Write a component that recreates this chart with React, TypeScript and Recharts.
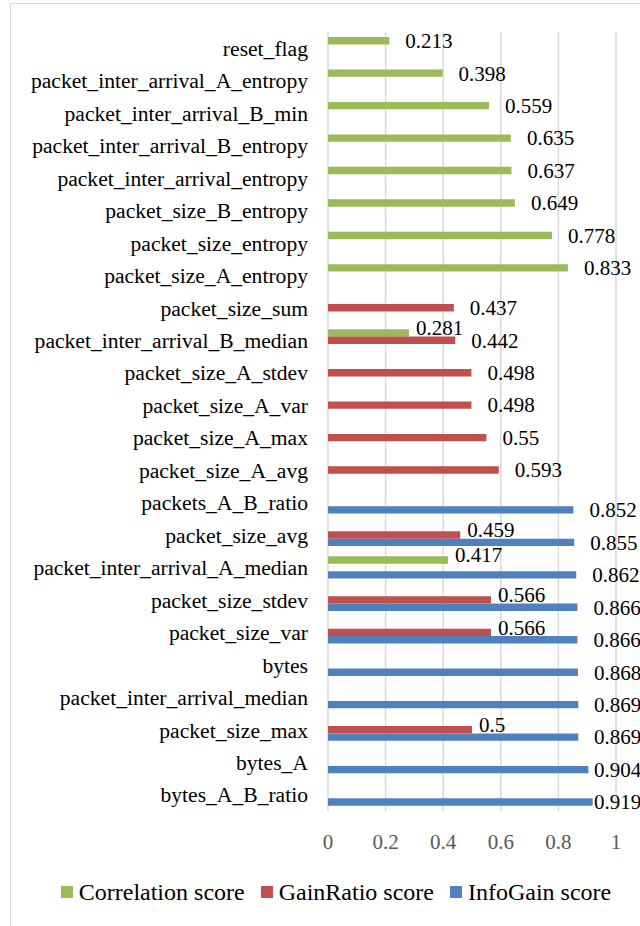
import React from 'react';
import { BarChart, Bar, XAxis, YAxis, CartesianGrid, Legend } from 'recharts';

// feature names, top to bottom
const features = [
  'reset_flag',
  'packet_inter_arrival_A_entropy',
  'packet_inter_arrival_B_min',
  'packet_inter_arrival_B_entropy',
  'packet_inter_arrival_entropy',
  'packet_size_B_entropy',
  'packet_size_entropy',
  'packet_size_A_entropy',
  'packet_size_sum',
  'packet_inter_arrival_B_median',
  'packet_size_A_stdev',
  'packet_size_A_var',
  'packet_size_A_max',
  'packet_size_A_avg',
  'packets_A_B_ratio',
  'packet_size_avg',
  'packet_inter_arrival_A_median',
  'packet_size_stdev',
  'packet_size_var',
  'bytes',
  'packet_inter_arrival_median',
  'packet_size_max',
  'bytes_A',
  'bytes_A_B_ratio',
];

const correlation = [
  0.213, 0.398, 0.559, 0.635, 0.637, 0.649, 0.778, 0.833,
  null, 0.281, null, null, null, null, null, null,
  0.417, null, null, null, null, null, null, null,
];

const gainRatio = [
  null, null, null, null, null, null, null, null,
  0.437, 0.442, 0.498, 0.498, 0.55, 0.593, null, 0.459,
  null, 0.566, 0.566, null, null, 0.5, null, null,
];

const infoGain = [
  null, null, null, null, null, null, null, null,
  null, null, null, null, null, null, 0.852, 0.855,
  0.862, 0.866, 0.866, 0.868, 0.869, 0.869, 0.904, 0.919,
];

const xTicks = [0, 0.2, 0.4, 0.6, 0.8, 1];

const seriesKeys = ['correlation', 'gainRatio', 'infoGain'];
const seriesValues = [correlation, gainRatio, infoGain];
const seriesNames = ['Correlation score', 'GainRatio score', 'InfoGain score'];
const seriesColors = ['#9bbb59', '#c0504d', '#4f81bd'];

const data = features.map((name, i) => ({
  name,
  correlation: correlation[i],
  gainRatio: gainRatio[i],
  infoGain: infoGain[i],
}));

// labels only get drawn for non-null bars, so map label index -> row index
const rowsWithValue = seriesValues.map((vals) =>
  vals.map((v, i) => (v == null ? -1 : i)).filter((i) => i >= 0)
);

const FONT = 'Liberation Serif, DejaVu Serif, serif';

// value label at the end of each bar; when a lower bar shares the row the
// label is nudged up and in so the two don't collide (as in the original)
const makeLabel = (seriesIndex: number) => (props: any) => {
  const { x, y, width, height, value, index } = props;
  if (value == null) return null;
  let row: any = null;
  if (props.payload && props.payload.name) row = props.payload;
  else row = data[rowsWithValue[seriesIndex][index]] || {};
  const sharesRow = seriesKeys.slice(seriesIndex + 1).some((k) => row[k] != null);
  const end = Number(x) + Number(width);
  const tx = sharesRow ? end + 7 : Math.min(end + 16, 594);
  const ty = Number(y) + Number(height) / 2 + (sharesRow ? -5 : 0);
  return (
    <text x={tx} y={ty} dy="0.35em" fontSize={21} fill="#000" style={{ fontFamily: FONT }}>
      {value}
    </text>
  );
};

const LegendContent = () => (
  <div
    style={{
      height: 28,
      display: 'flex',
      alignItems: 'center',
      justifyContent: 'center',
      fontFamily: FONT,
      fontSize: 24,
      color: '#000',
      gap: 16,
    }}
  >
    {seriesNames.map((n, i) => (
      <span key={n} style={{ display: 'flex', alignItems: 'center', gap: 6 }}>
        <span style={{ width: 12, height: 12, background: seriesColors[i], display: 'inline-block' }} />
        <span>{n}</span>
      </span>
    ))}
  </div>
);

export default function App() {
  return (
    <div
      style={{
        position: 'absolute',
        left: 0,
        top: 0,
        width: 640,
        height: 926,
        overflow: 'hidden',
        background: '#fff',
        fontFamily: FONT,
      }}
    >
      <div
        style={{
          position: 'absolute',
          left: 10,
          top: 3,
          width: 700,
          height: 1000,
          borderTop: '1.5px solid #d9d9d9',
          borderLeft: '1.5px solid #d9d9d9',
        }}
      />
      <div style={{ position: 'absolute', left: 0, top: 0 }}>
        <BarChart
          width={640}
          height={926}
          data={data}
          layout="vertical"
          margin={{ top: 32, right: 24, bottom: 20, left: 0 }}
          barSize={7.4}
          barGap={0}
          style={{ fontFamily: FONT }}
        >
          <CartesianGrid horizontal={false} stroke="#d9d9d9" strokeWidth={1.5} />
          <XAxis
            type="number"
            domain={[0, 1]}
            ticks={xTicks}
            axisLine={false}
            tickLine={false}
            tickSize={0}
            tickMargin={23}
            height={67}
            tick={{ fontSize: 21, fill: '#595959', style: { fontFamily: FONT } }}
          />
          <YAxis
            type="category"
            dataKey="name"
            width={328}
            interval={0}
            axisLine={false}
            tickLine={false}
            tickSize={0}
            tickMargin={20}
            tick={{ fontSize: 21.6, fill: '#000', style: { fontFamily: FONT } }}
          />
          <Legend verticalAlign="bottom" content={<LegendContent />} wrapperStyle={{ left: 28 }} />
          {seriesKeys.map((k, i) => (
            <Bar
              key={k}
              dataKey={k}
              name={seriesNames[i]}
              fill={seriesColors[i]}
              isAnimationActive={false}
              label={makeLabel(i)}
            />
          ))}
        </BarChart>
      </div>
    </div>
  );
}
